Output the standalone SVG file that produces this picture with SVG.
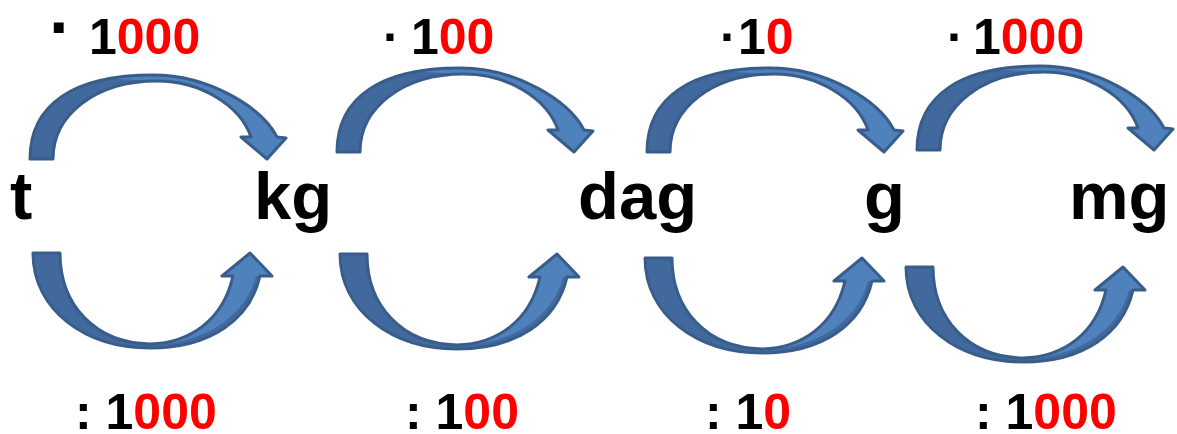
<svg xmlns="http://www.w3.org/2000/svg" xmlns:xlink="http://www.w3.org/1999/xlink" width="1177" height="434" viewBox="0 0 1177 434">
<style>
.unit{font-family:"Liberation Sans",Arial,sans-serif;font-weight:bold;font-size:67px;fill:#000}
.lbl{font-family:"Liberation Sans",Arial,sans-serif;font-weight:bold;font-size:50px;fill:#000}
.red{fill:#ff0000}
.dark{fill:#41699e}
.light{fill:#4f81bd}
.edge{fill:none;stroke:#385d8a;stroke-width:3;stroke-linejoin:round}
</style>
<defs>
<g id="topArrow">
<path class="dark" d="M30,159 C30,104 74,75 153,75 C210,75 262,108 277,137 L286,138 L267,159 L241,137 L251,137 C240,105 200,81 157,81 C95,81 53,115 53,159 Z"/>
<path class="light" d="M105,78 C125,75.5 140,75 153,75 C210,75 262,108 277,137 L286,138 L267,159 L241,137 L251,137 C240,105 200,81 157,81 C135,80 118,79 105,78 Z"/>
<path class="edge" d="M30,159 C30,104 74,75 153,75 C210,75 262,108 277,137 L286,138 L267,159 L241,137 L251,137 C240,105 200,81 157,81 C95,81 53,115 53,159 Z"/>
</g>
<g id="botArrow">
<path class="dark" d="M33,253 C33,310 85,348 150,348 C210,348 250,320 260,276 L272,276 L250,253 L222,276 L233,276 C223,320 190,343 150,344 C95,343 60,305 60,253 Z"/>
<path class="light" d="M145,345 C203,345 245,318 256,276 L272,276 L250,253 L222,276 L233,276 C223,320 190,343 150,344 Z"/>
<path class="edge" d="M33,253 C33,310 85,348 150,348 C210,348 250,320 260,276 L272,276 L250,253 L222,276 L233,276 C223,320 190,343 150,344 C95,343 60,305 60,253 Z"/>
</g>
</defs>
<g id="connectors">
<use xlink:href="#topArrow"/>
<use xlink:href="#topArrow" transform="translate(307,-7)"/>
<use xlink:href="#topArrow" transform="translate(617,-7)"/>
<use xlink:href="#topArrow" transform="translate(887,-9)"/>
<use xlink:href="#botArrow"/>
<use xlink:href="#botArrow" transform="translate(307,1)"/>
<use xlink:href="#botArrow" transform="translate(612,5)"/>
<use xlink:href="#botArrow" transform="translate(873,14)"/>
</g>
<g id="node-t"><text class="unit" x="10" y="219">t</text></g>
<g id="node-kg"><text class="unit" x="254" y="219">kg</text></g>
<g id="node-dag"><text class="unit" x="578" y="219">dag</text></g>
<g id="node-g"><text class="unit" x="864" y="219">g</text></g>
<g id="node-mg"><text class="unit" x="1069" y="219">mg</text></g>
<g id="labels">
<text class="lbl" y="54"><tspan x="49" dy="-3" font-size="70">·</tspan><tspan x="89" dy="3">1</tspan><tspan class="red">000</tspan></text>
<text class="lbl" y="54"><tspan x="383">·</tspan><tspan x="411">1</tspan><tspan class="red">00</tspan></text>
<text class="lbl" y="54"><tspan x="720">·</tspan><tspan x="738">1</tspan><tspan class="red">0</tspan></text>
<text class="lbl" y="54"><tspan x="947">·</tspan><tspan x="973">1</tspan><tspan class="red">000</tspan></text>
<text class="lbl" x="75" y="429">: 1<tspan class="red">000</tspan></text>
<text class="lbl" x="405" y="429">: 1<tspan class="red">00</tspan></text>
<text class="lbl" x="705" y="429">: 1<tspan class="red">0</tspan></text>
<text class="lbl" x="975" y="429">: 1<tspan class="red">000</tspan></text>
</g>
</svg>
